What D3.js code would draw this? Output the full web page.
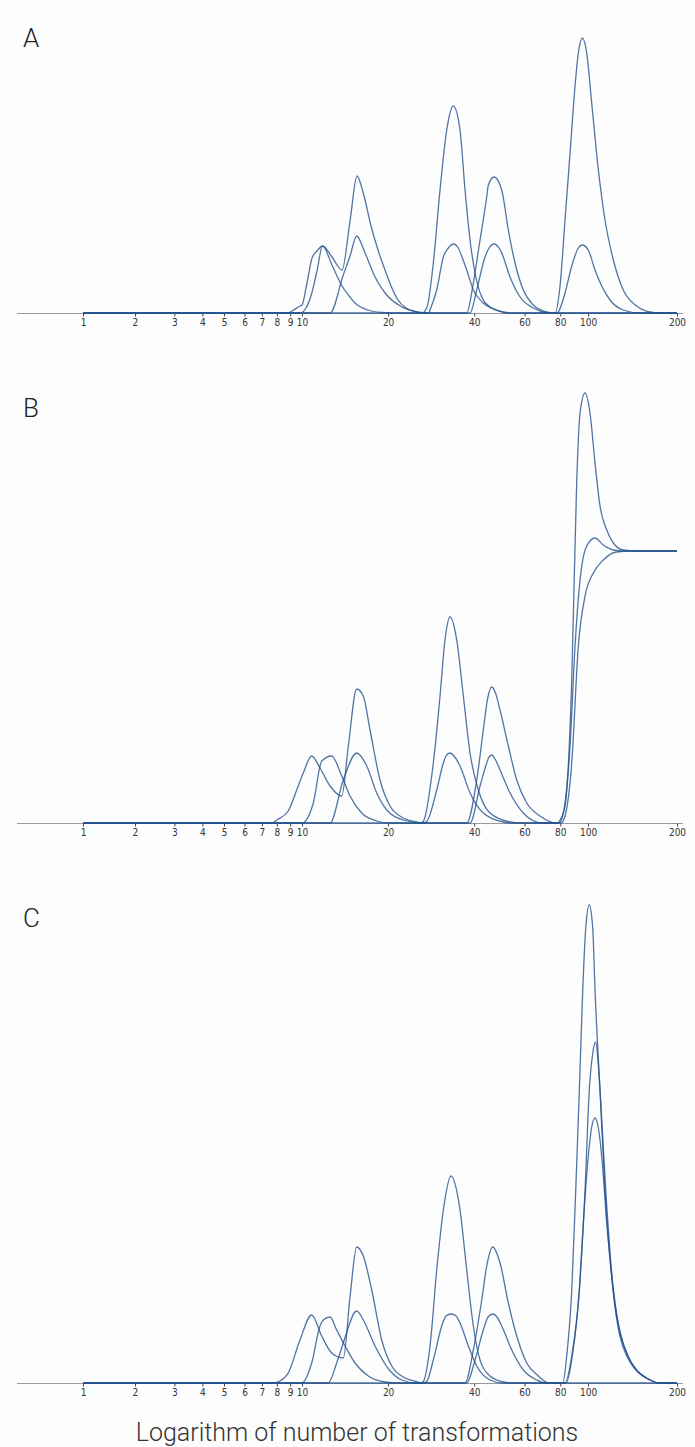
<!DOCTYPE html>
<html>
<head>
<meta charset="utf-8">
<script src="https://cdn.jsdelivr.net/npm/d3@7"></script>
<style>
    body { margin: 0; background: #fdfdfd; }
    svg { display: block; }
</style>
</head>
<body>
<svg id="chart" width="695" height="1447"></svg>
<script>
// tick labels on each x axis
var tickValues = [1, 2, 3, 4, 5, 6, 7, 8, 9, 10, 20, 40, 60, 80, 100, 200];
// the printed axis is not evenly logarithmic, so it is bent at these values
var axisBreaks = [1, 2, 5, 10, 100, 200];
var axisBreakPos = [0, 0.0875, 0.2374, 0.3687, 0.8502, 1];

// curves: [number of transformations, height]
var panelA_1 = [[1,0],[8.83,0],[9.15,2],[9.82,7],[10.0,8],[10.41,30],[10.84,55],[11.28,62],[11.80,67],[12.73,56],[13.80,43],[14.72,92],[15.57,137],[16.34,121],[17.43,87],[18.44,63],[19.51,43],[20.48,27],[21.66,13],[23.10,5],[24.84,1.5],[26.28,0],[27.36,6],[28.78,50],[30.38,123],[32.06,183],[33.8,207],[35.68,183],[37.15,123],[38.68,73],[40.27,40],[42.5,16],[45.43,6],[50.45,1],[54.24,0],[76.68,0],[79.83,27],[83.11,93],[86.53,160],[90.08,227],[92.5,260],[95.53,275],[98.97,260],[102.9,210],[108.4,143],[114.15,93],[121.8,53],[131.6,23],[146.1,7],[162.0,1],[175,0],[200,0]];
var panelA_2 = [[1,0],[9.82,0],[10.33,5],[10.82,20],[11.28,42],[11.80,67],[12.73,48],[13.80,27],[14.72,16],[15.32,10],[17.01,3],[19.0,0.5],[20.64,0],[27.8,0],[28.03,3],[29.58,23],[31.2,56],[32.48,65],[33.8,69],[35.2,65],[36.26,56],[37.66,43],[39.72,23],[43.04,10],[47.96,3],[52.1,0],[78.2,0],[78.74,1],[83.11,20],[87.72,47],[92.5,65],[95.53,68],[100.2,63],[105.6,43],[111.25,27],[118.69,13],[131.6,3],[149.9,0],[200,0]];
var panelA_3 = [[1,0],[12.53,0],[13.94,38],[14.72,57],[15.53,77],[16.61,60],[18.0,36],[19.51,20],[22.37,6],[25.45,1],[26.92,0],[37.66,0],[39.72,30],[41.92,73],[44.24,116],[44.82,128],[46.92,136],[49.92,123],[52.65,83],[55.57,50],[59.4,23],[64.4,8],[71.7,1],[75.5,0],[200,0]];
var panelA_4 = [[1,0],[38.68,0],[40.82,23],[43.64,56],[45.07,65],[46.92,69],[48.85,65],[49.92,60],[53.38,36],[57.85,16],[64.4,5],[69.6,1],[73.66,0],[200,0]];

var panelB_1 = [[1,0],[7.66,0],[7.99,3],[8.85,12],[9.54,33],[10.1,50],[10.81,67],[11.56,55],[12.53,37],[13.77,27],[14.52,77],[15.53,134],[16.38,127],[17.29,93],[18.74,43],[20.31,17],[22.6,5],[25.18,1],[26.0,0],[26.55,1.5],[28.78,60],[30.38,127],[31.62,183],[32.92,206],[34.75,183],[36.65,127],[38.68,70],[41.35,33],[45.43,10],[53.38,1],[57.85,0],[78.0,0],[79.83,3],[83.11,17],[87.72,143],[91.32,343],[93.78,410],[97.63,430],[101.57,410],[105.6,360],[109.79,317],[115.7,293],[121.8,280],[131.6,273],[146.1,272],[200,272]];
var panelB_2 = [[1,0],[10.0,0],[10.95,20],[11.72,62],[12.7,67],[13.77,47],[14.72,27],[16.17,10],[18.25,2],[20.0,0],[26.5,0],[27.29,1.5],[29.58,33],[31.2,60],[31.88,67],[32.92,70],[34.0,67],[35.68,57],[38.68,30],[43.04,10],[50.45,1],[54.24,0],[79.19,0],[81.98,10],[86.53,77],[90.08,177],[93.78,243],[98.97,277],[105.6,285],[112.65,278],[121.8,273],[131.6,272],[200,272]];
var panelB_3 = [[1,0],[12.53,0],[13.94,43],[15.53,70],[16.84,57],[18.25,30],[19.78,13],[22.6,3],[26.28,0],[37.66,0],[40.82,43],[43.04,93],[44.53,124],[46.06,136],[47.49,130],[49.25,113],[52.65,77],[56.33,43],[61.06,20],[67.96,7],[77.7,0],[80.5,0],[83.11,7],[87.72,60],[92.5,177],[97.63,227],[104.2,250],[112.65,263],[124.7,271],[140,272],[200,272]];
var panelB_4 = [[1,0],[38.68,0],[41.92,37],[44.24,60],[44.9,65],[46.06,68],[47.3,64],[49.25,53],[53.38,30],[59.4,10],[66.17,1],[70,0],[79,0]];

var panelC_1 = [[1,0],[7.66,0],[8.22,2],[8.85,10],[9.82,43],[10.81,68],[11.72,47],[12.7,30],[13.94,25],[14.72,86],[15.53,136],[16.38,127],[17.53,93],[19.0,43],[20.59,17],[22.92,5],[25.5,1],[26.0,0],[26.55,1.5],[28.03,37],[29.58,113],[31.2,173],[33.19,207],[35.68,173],[37.66,113],[39.72,57],[41.92,23],[45.43,7],[50.57,1],[54.24,0],[81.6,0],[84.25,27],[87.72,93],[90.59,193],[93.26,293],[95.84,393],[98.18,455],[101.0,478],[103.73,455],[105.6,393],[109.79,293],[114.15,193],[121.49,93],[135.17,27],[162.05,3],[175,0],[200,0]];
var panelC_2 = [[1,0],[9.98,0],[10.81,20],[11.56,57],[11.87,63],[12.53,66],[13.22,53],[14.14,37],[15.32,20],[17.05,7],[19.51,1],[21.5,0],[26.5,0],[27.29,1.5],[28.78,23],[30.8,57],[31.88,67],[33.19,69],[34.55,67],[35.68,60],[38.15,37],[40.82,17],[45.43,3],[50.04,0],[83.11,0],[87.72,27],[93.26,93],[97.63,193],[101.0,293],[103.56,328],[106.2,341],[108.1,322],[109.79,293],[114.8,193],[121.8,93],[136.54,27],[162.05,3],[175,0],[200,0]];
var panelC_3 = [[1,0],[12.35,0],[13.22,20],[13.94,40],[15.53,72],[16.38,63],[18.0,37],[20.2,13],[22.32,3],[25.0,0],[37.15,0],[39.72,33],[42.5,83],[44.24,117],[46.43,136],[49.25,120],[52.65,80],[56.33,47],[61.06,20],[67.03,7],[73.0,0],[83.78,0],[88.14,27],[93.26,93],[96.3,160],[100.23,227],[102.76,255],[105.6,265],[108.52,254],[111.25,227],[115.7,160],[121.8,93],[136.54,27],[162.05,3],[175,0],[200,0]];
var panelC_4 = [[1,0],[37.66,0],[40.27,23],[43.04,53],[44.71,66],[46.43,69],[48.07,66],[49.92,57],[54.1,33],[59.4,13],[66.17,3],[71.0,0],[200,0]];

var panelLabels = ["A", "B", "C"];
var panelSeries = [
    [panelA_1, panelA_2, panelA_3, panelA_4],
    [panelB_1, panelB_2, panelB_3, panelB_4],
    [panelC_1, panelC_2, panelC_3, panelC_4]
];
var axisTitle = "Logarithm of number of transformations";

// layout
var x0 = 83, x1 = 677;
var baselines = [313, 823, 1383];
var letterY = [47, 417, 927];

var svg = d3.select('#chart');
svg.append('rect').attr('width', 695).attr('height', 1447).attr('fill', '#fdfdfd');

var x = d3.scaleLog()
    .domain(axisBreaks)
    .range(axisBreakPos.map(function(f){ return x0 + f * (x1 - x0); }));

var y = d3.scaleLinear().domain([0, 480]).range([0, -480]);

var line = d3.line()
    .x(function(d){ return x(d[0]); })
    .y(function(d){ return y(d[1]); })
    .curve(d3.curveMonotoneX);

for (var i = 0; i < panelSeries.length; i++){
    var g = svg.append('g').attr('transform', 'translate(0,' + baselines[i] + ')');

    // grey axis line under the curves
    g.append('line')
        .attr('x1', 17).attr('x2', 683)
        .attr('y1', 0.5).attr('y2', 0.5)
        .attr('stroke', '#9a9a9a')
        .attr('stroke-width', 1);

    var axis = g.append('g')
        .attr('class', 'axis')
        .attr('transform', 'translate(0,0.5)')
        .call(d3.axisBottom(x)
            .tickValues(tickValues)
            .tickFormat(d3.format('d'))
            .tickSize(3)
            .tickPadding(2));
    axis.select('.domain').remove();
    axis.selectAll('line').attr('stroke', '#444');
    axis.selectAll('text')
        .attr('fill', '#333')
        .style('font-family', '"Liberation Sans Narrow", "DejaVu Sans Condensed", sans-serif')
        .style('font-size', '10px');

    g.selectAll('path.curve')
        .data(panelSeries[i]).enter()
        .append('path')
            .attr('class', 'curve')
            .attr('d', line)
            .attr('fill', 'none')
            .attr('stroke', '#24528f')
            .attr('stroke-opacity', 0.8)
            .attr('stroke-width', 1.3)
            .attr('stroke-linejoin', 'round');

    svg.append('text')
        .attr('x', 23)
        .attr('y', letterY[i])
        .text(panelLabels[i])
        .attr('fill', '#222')
        .style('font-family', 'Roboto, "Liberation Sans", sans-serif')
        .style('font-weight', 300)
        .style('font-size', '26px');
}

svg.append('text')
    .attr('x', 357)
    .attr('y', 1441)
    .attr('text-anchor', 'middle')
    .text(axisTitle)
    .attr('fill', '#333')
    .style('font-family', 'Roboto, "Liberation Sans", sans-serif')
    .style('font-weight', 300)
    .style('font-size', '25px');
</script>
</body>
</html>
